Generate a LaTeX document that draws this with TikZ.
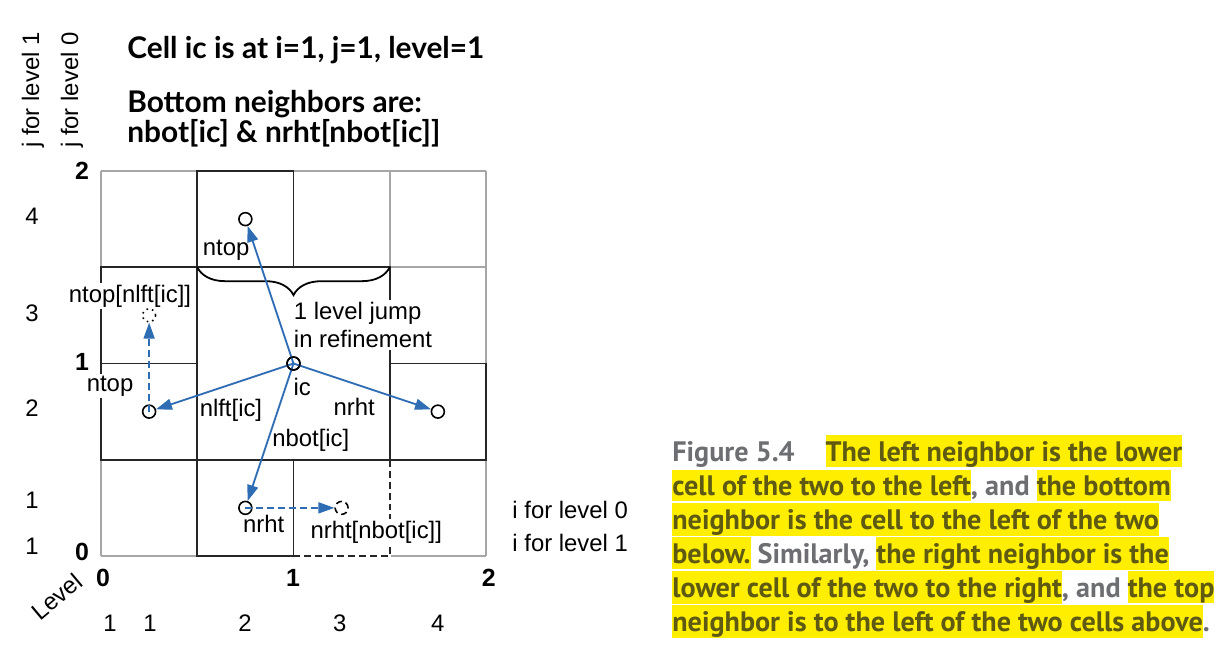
\documentclass[tikz,border=0pt]{standalone}
\usepackage{fontspec}
\setmainfont{Liberation Sans}
\newfontfamily\titlefont{Lato}
\newfontfamily\capfont{PT Sans}
\usepackage{tikz}
\usetikzlibrary{arrows.meta,positioning,decorations.pathreplacing}
\definecolor{NbBlue}{HTML}{2E6DB4}
\definecolor{GridGray}{HTML}{A6A6A6}
\definecolor{CapGray}{HTML}{6D6E71}
\definecolor{CapYellow}{HTML}{FFEE00}
\definecolor{CapOlive}{HTML}{5F5A12}
\newcommand{\hlt}[1]{{\setlength{\fboxsep}{0pt}\colorbox{CapYellow}{\color{CapOlive}\rule[-2.8pt]{0pt}{16pt}#1}}}

\begin{document}
\begin{tikzpicture}[
  x=1.7cm, y=1.7cm,
  cellline/.style={draw=black!85, line width=0.9pt},
  gridline/.style={draw=GridGray, line width=0.9pt},
  cellpt/.style={circle, draw=black, line width=0.8pt, minimum size=6.5pt, inner sep=0pt},
  nbarrow/.style={draw=NbBlue, line width=0.9pt, -{Triangle[length=8pt,width=5.5pt]}},
  nbdash/.style={dash pattern=on 3.5pt off 2pt},
  lbl/.style={font=\fontsize{12}{14.4}\selectfont, inner sep=1pt},
  mlbl/.style={lbl, fill=white},
  axnum/.style={font=\fontsize{12.5}{14}\selectfont\bfseries, inner sep=0pt},
  idx/.style={font=\fontsize{12}{14}\selectfont, inner sep=0pt},
  titletext/.style={font=\titlefont\fontsize{15}{17}\selectfont\bfseries, anchor=west, inner sep=0pt},
  capline/.style={font=\capfont\fontsize{14.15}{17}\selectfont\bfseries, anchor=west, inner sep=0pt}
]
  \useasboundingbox (-1.0494,-1.0909) rectangle (11.678,5.7766);

  % grid: level 1 cells, then the cells around ic
  \draw[gridline, step=1.7cm] (0,0) grid (4,4);
  \draw[cellline, fill=white] (1,1) rectangle (3,3);
  \draw[cellline] (1,3) rectangle (2,4);
  \draw[cellline] (0,1) rectangle (1,3);
  \draw[cellline] (0,2) -- (1,2);
  \draw[cellline] (3,1) rectangle (4,2);
  \draw[cellline] (1,0) rectangle (2,1);
  \draw[cellline] (2,1) -- (2,0);
  \draw[white, line width=1pt] (3,1) -- (3,0) -- (2,0);
  \draw[cellline, nbdash] (3,1) -- (3,0) -- (2,0);

  % 1 level jump brace
  \draw[decorate, decoration={brace, amplitude=14pt}, line width=0.9pt]
    (3,3) -- (1,3);

  % labels in the mesh
  \node[mlbl] (ltop)    at (1.30,3.18) {ntop};
  \node[mlbl] (ltoplft) at (0.301,2.70) {ntop[nlft[ic]]};
  \node[mlbl, anchor=west, align=left] (ljump) at (1.98,2.40)
    {1 level jump\\in refinement};
  \node[mlbl] (ltop2)   at (0.094,1.766) {ntop};
  \node[mlbl] (lic)     at (2.09,1.756) {ic};
  \node[mlbl] (llft)    at (1.35,1.517) {nlft[ic]};
  \node[mlbl] (lrht)    at (2.63,1.548) {nrht};
  \node[mlbl] (lbot)    at (2.18,1.205) {nbot[ic]};
  \node[mlbl] (lrht2)   at (1.69,0.33) {nrht};
  \node[mlbl] (lrhtbot) at (2.86,0.25) {nrht[nbot[ic]]};

  % cell centers
  \node[cellpt] (ic)   at (2,2) {};
  \node[cellpt] (top)  at (1.5,3.5) {};
  \node[cellpt] (lft)  at (0.5,1.5) {};
  \node[cellpt] (rht)  at (3.5,1.5) {};
  \node[cellpt] (bot)  at (1.5,0.5) {};
  \node[cellpt, dotted] (toplft) at (0.5,2.5) {};
  \node[cellpt, densely dashed] (rhtbot) at (2.5,0.5) {};

  \draw[nbarrow] (ic.center) -- (top);
  \draw[nbarrow] (ic.center) -- (lft);
  \draw[nbarrow] (ic.center) -- (rht);
  \draw[nbarrow] (ic.center) -- (bot);
  \draw[nbarrow, nbdash] (lft.center) -- (toplft);
  \draw[nbarrow, nbdash] (bot.center) -- (rhtbot);
  \node[cellpt] at (ic) {};

  % level 0 coordinates
  \node[axnum] (y2) at (-0.197,4.0) {2};
  \node[axnum] (y1) at (-0.197,2.02) {1};
  \node[axnum] (y0) at (-0.197,0.04) {0};
  \node[axnum] (x0) at (0.02,-0.23) {0};
  \node[axnum] (x1) at (1.995,-0.23) {1};
  \node[axnum] (x2) at (4.03,-0.23) {2};

  % j and i indices
  \node[idx] (j4) at (-0.717,3.53) {4};
  \node[idx] (j3) at (-0.717,2.525) {3};
  \node[idx] (j2) at (-0.717,1.54) {2};
  \node[idx] (j1) at (-0.717,0.58) {1};
  \node[idx] (j0) at (-0.717,0.10) {1};
  \node[idx] (i0) at (0.094,-0.70) {1};
  \node[idx] (i1) at (0.51,-0.70) {1};
  \node[idx] (i2) at (1.496,-0.70) {2};
  \node[idx] (i3) at (2.48,-0.70) {3};
  \node[idx] (i4) at (3.50,-0.70) {4};
  \node[lbl, rotate=90] (jlev1) at (-0.707,4.84) {j for level 1};
  \node[lbl, rotate=90] (jlev0) at (-0.301,4.84) {j for level 0};
  \node[lbl, rotate=40, inner sep=0pt] (level) at (-0.46,-0.42) {Level};
  \node[lbl, anchor=west] (ilev0) at (4.25,0.478) {i for level 0};
  \node[lbl, anchor=west] (ilev1) at (4.25,0.135) {i for level 1};

  % heading
  \node[titletext] (title) at (0.27,5.257) {Cell ic is at i=1, j=1, level=1};
  \node[titletext] (bot1)  at (0.27,4.696) {Bottom neighbors are:};
  \node[titletext] (bot2)  at (0.27,4.395) {nbot[ic] \& nrht[nbot[ic]]};

  % caption
  \node[capline] (cap1) at (5.932,1.091)
    {\color{CapGray}Figure 5.4\hspace{1.1em}\hlt{The left neighbor is the lower}};
  \node[capline] (cap2) at (5.932,0.732)
    {\color{CapGray}\hlt{cell of the two to the left}, and \hlt{the bottom}};
  \node[capline] (cap3) at (5.932,0.379)
    {\hlt{neighbor is the cell to the left of the two}};
  \node[capline] (cap4) at (5.932,0.026)
    {\color{CapGray}\hlt{below.} Similarly, \hlt{the right neighbor is the}};
  \node[capline] (cap5) at (5.932,-0.327)
    {\color{CapGray}\hlt{lower cell of the two to the right}, and \hlt{the top}};
  \node[capline] (cap6) at (5.932,-0.680)
    {\color{CapGray}\hlt{neighbor is to the left of the two cells above}.};
\end{tikzpicture}
\end{document}
